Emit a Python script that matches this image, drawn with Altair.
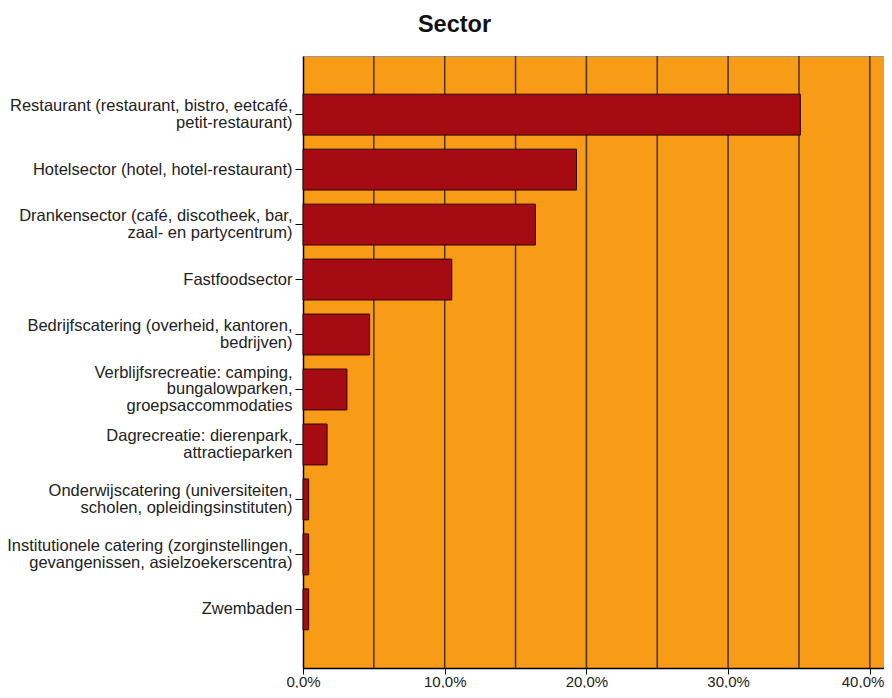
import altair as alt
import pandas as pd

categories = [
    "Restaurant (restaurant, bistro, eetcafé,\npetit-restaurant)",
    "Hotelsector (hotel, hotel-restaurant)",
    "Drankensector (café, discotheek, bar,\nzaal- en partycentrum)",
    "Fastfoodsector",
    "Bedrijfscatering (overheid, kantoren,\nbedrijven)",
    "Verblijfsrecreatie: camping,\nbungalowparken,\ngroepsaccommodaties",
    "Dagrecreatie: dierenpark,\nattractieparken",
    "Onderwijscatering (universiteiten,\nscholen, opleidingsinstituten)",
    "Institutionele catering (zorginstellingen,\ngevangenissen, asielzoekerscentra)",
    "Zwembaden",
]
percentages = [35.1, 19.3, 16.4, 10.5, 4.7, 3.1, 1.7, 0.4, 0.4, 0.4]
tick_values = [0.0, 0.1, 0.2, 0.3, 0.4]
grid_values = [0.05, 0.10, 0.15, 0.20, 0.25, 0.30, 0.35, 0.40]

FONT = "Liberation Sans, Arial, sans-serif"
LH = 16.7

df = pd.DataFrame({"sector": categories, "pct": [p / 100 for p in percentages]})
grid_df = pd.DataFrame({"g": grid_values})

x_scale = alt.Scale(domain=[0, 0.41], nice=False, zero=True)

x_axis = alt.Axis(
    values=tick_values,
    grid=False,
    labelExpr="replace(format(datum.value, '.1%'), '.', ',')",
    labelFont=FONT,
    labelFontSize=15,
    labelColor="#222222",
    labelAlign={"condition": {"test": "datum.value >= 0.4", "value": "right"}, "value": "center"},
    labelOffset={"condition": {"test": "datum.value >= 0.4", "value": 14}, "value": 0},
    tickColor="#000000",
    tickSize=6,
    labelPadding=0,
    domainColor="#000000",
    domainWidth=1.5,
)

grid = alt.Chart(grid_df).mark_rule(color="#4a3210", strokeWidth=1.5).encode(
    x=alt.X("g:Q", scale=x_scale, axis=x_axis, title=None)
)

label_offset = {
    "condition": [
        {"test": "split(datum.value, '\\n').length == 3", "value": -LH},
        {"test": "split(datum.value, '\\n').length == 2", "value": -LH / 2},
    ],
    "value": 0,
}

bars = alt.Chart(df).mark_bar(
    color="#A50B12", stroke="#2a0606", strokeWidth=1, opacity=1
).encode(
    x=alt.X("pct:Q", scale=x_scale, title=None, axis=x_axis),
    y=alt.Y(
        "sector:N",
        sort=categories,
        title=None,
        scale=alt.Scale(paddingInner=0.256, paddingOuter=0.695),
        axis=alt.Axis(
            labelExpr="split(datum.label, '\\n')",
            labelFont=FONT,
            labelFontSize=16.5,
            labelColor="#222222",
            labelLineHeight=LH,
            labelLimit=500,
            labelPadding=3,
            labelOffset=label_offset,
            tickColor="#000000",
            tickSize=8,
            domainColor="#000000",
            domainWidth=1.5,
        ),
    ),
)

chart = alt.layer(grid, bars).properties(
    width=581,
    height=612,
    autosize=alt.AutoSizeParams(type="none"),
    padding={"left": 295, "top": 48, "right": 0, "bottom": 20},
    title=alt.TitleParams(
        "Sector",
        font=FONT,
        fontSize=23.5,
        fontWeight="bold",
        color="#111111",
        anchor="middle",
        dx=-139,
        baseline="alphabetic",
        offset=0,
    ),
).configure(
    background="white",
    view=alt.ViewConfig(fill="#F89B17", stroke="#999999", strokeWidth=1),
)

chart.save("out.html", embed_options={"renderer": "svg", "actions": False})
